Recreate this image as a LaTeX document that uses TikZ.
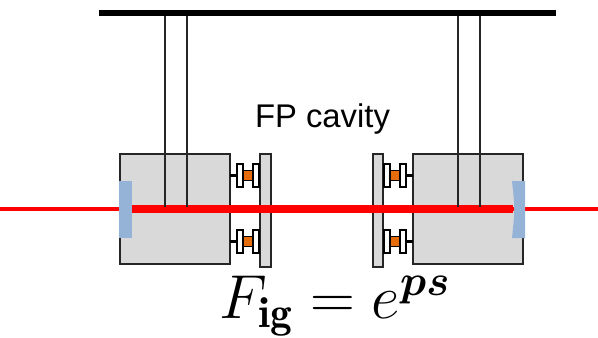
\RequirePackage{fix-cm}
\documentclass[tikz,border=0pt]{standalone}
\usepackage{amsmath,amssymb,bm}
\usepackage{fontspec}
\newfontfamily\labelfont{Liberation Sans}
\usepackage{tikz}
\definecolor{holdergray}{HTML}{D9D9D9}
\definecolor{mirrorblue}{HTML}{95B3D7}
\definecolor{flexorange}{HTML}{E46C0A}
\tikzstyle{holder} = [draw=black!85, fill=holdergray, line width=1.5pt]
\tikzstyle{pad} = [draw=black, fill=white, line width=1.4pt]
\tikzstyle{flex} = [draw=black, fill=flexorange, line width=1.4pt]
\tikzstyle{stub} = [black, line width=2.6pt]
\tikzstyle{mirror} = [fill=mirrorblue, draw=none]
\tikzstyle{wire} = [black!85, line width=1.5pt]

\begin{document}
\begin{tikzpicture}[x=0.03cm, y=-0.03cm]
			\useasboundingbox (0,0) rectangle (598,337);
			% holders and plates
			\draw[holder] (120,154) rectangle (230,264);
			\draw[holder] (413,154) rectangle (523,264);
			\draw[holder] (260,154) rectangle (271,267);
			\draw[holder] (373,154) rectangle (383,267);
			% flexure mounts
			\foreach \y in {175.5,241.5} {
				\draw[stub] (230,\y) -- (237,\y);
				\draw[pad] (237,\y-11.5) rectangle (243,\y+11.5);
				\draw[flex] (243,\y-5) rectangle (253,\y+5);
				\draw[pad] (253,\y-11.5) rectangle (259,\y+11.5);
				\draw[stub] (406,\y) -- (413,\y);
				\draw[pad] (384,\y-11.5) rectangle (390,\y+11.5);
				\draw[flex] (390,\y-5) rectangle (400,\y+5);
				\draw[pad] (400,\y-11.5) rectangle (406,\y+11.5);
			}
			% laser beam
			\draw[red, line width=3.4pt] (0,209) -- (598,209);
			\draw[red, line width=6pt] (130,209) -- (513,209);
			% mirrors
			\fill[mirror] (119,181) rectangle (132,238);
			\fill[mirror] (512,181) .. controls (515,209) .. (512,238) -- (525,238) -- (525,181) -- cycle;
			% suspension
			\fill (99,10) rectangle (556,16);
			\foreach \x in {165,187,458,480}
				\draw[wire] (\x,16) -- (\x,207);
			\node[anchor=base, inner sep=0pt] (cav) at (322.5,127) {\labelfont\fontsize{28}{32}\selectfont FP cavity};
			\node[anchor=base, inner sep=0pt] (gain) at (334.5,318) {\fontsize{53}{60}\selectfont $F_{\mathbf{ig}} = e^{\bm{ps}}$};
		\end{tikzpicture}
\end{document}
